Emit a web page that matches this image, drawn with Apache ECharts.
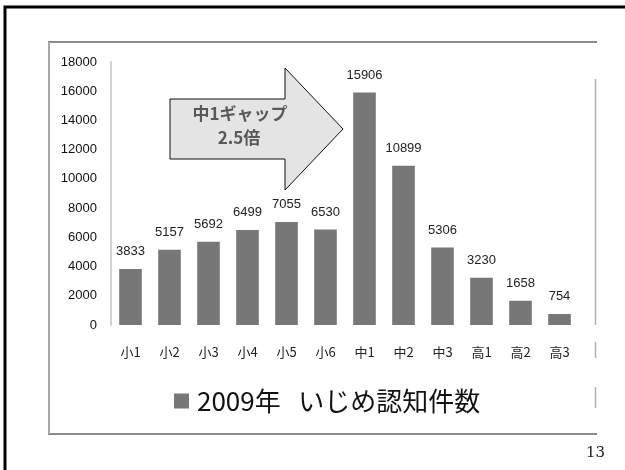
<!DOCTYPE html>
<html>
<head>
<meta charset="utf-8">
<script src="https://cdn.jsdelivr.net/npm/echarts@6/dist/echarts.min.js"></script>
<style>
  html, body { margin: 0; padding: 0; background: #fff; }
  #chart { width: 625px; height: 470px; }
</style>
</head>
<body>
<div id="chart"></div>
<script>
// School grades (elementary 1-6, junior high 1-3, senior high 1-3)
const grades = ['小1', '小2', '小3', '小4', '小5', '小6', '中1', '中2', '中3', '高1', '高2', '高3'];
// Recognised bullying cases per grade, 2009
const cases2009 = [3833, 5157, 5692, 6499, 7055, 6530, 15906, 10899, 5306, 3230, 1658, 754];
const seriesName = '2009年   いじめ認知件数';
const yTicks = { min: 0, max: 18000, step: 2000 };
const calloutLines = ['中1ギャップ', '2.5倍'];
const pageNumber = '13';

const chart = echarts.init(document.getElementById('chart'), null, { renderer: 'canvas' });

const option = {
  backgroundColor: '#ffffff',
  animation: false,
  grid: { left: 111, right: 46, top: 62, bottom: 145, containLabel: false },
  legend: {
    data: [{ name: seriesName, icon: 'rect' }],
    left: 169,
    top: 383,
    itemWidth: 15,
    itemHeight: 15,
    itemGap: 0,
    textStyle: {
      fontSize: 26,
      color: '#111',
      fontFamily: '"Noto Sans CJK JP", sans-serif',
      padding: [0, 0, 0, 3]
    }
  },
  xAxis: {
    type: 'category',
    data: grades,
    axisLine: { show: false },
    axisTick: { show: false },
    axisLabel: {
      margin: 21,
      fontSize: 13,
      color: '#222',
      fontFamily: '"Noto Sans CJK JP", sans-serif'
    }
  },
  yAxis: {
    type: 'value',
    min: yTicks.min,
    max: yTicks.max,
    interval: yTicks.step,
    splitLine: { show: false },
    axisTick: { show: false },
    axisLine: { show: true, lineStyle: { color: '#d2d2d2', width: 2 } },
    axisLabel: {
      margin: 14,
      fontSize: 13,
      color: '#111',
      fontFamily: '"Liberation Sans", "Noto Sans", sans-serif',
      formatter: (v) => String(v)
    }
  },
  series: [{
    name: seriesName,
    type: 'bar',
    data: cases2009,
    barWidth: '58%',
    itemStyle: { color: '#777777' },
    label: {
      show: true,
      position: 'top',
      distance: 11,
      fontSize: 13,
      color: '#222',
      fontFamily: '"Liberation Sans", "Noto Sans", sans-serif'
    }
  }],
  graphic: [
    // slide frame
    { type: 'rect', silent: true, shape: { x: 5, y: 7, width: 700, height: 600 },
      style: { fill: 'none', stroke: '#000', lineWidth: 3 } },
    // chart area frame
    { type: 'line', silent: true, shape: { x1: 48, y1: 42, x2: 597, y2: 42 },
      style: { stroke: '#8a8a8a', lineWidth: 2 } },
    { type: 'line', silent: true, shape: { x1: 48, y1: 434, x2: 597, y2: 434 },
      style: { stroke: '#8a8a8a', lineWidth: 2 } },
    { type: 'line', silent: true, shape: { x1: 49, y1: 42, x2: 49, y2: 434 },
      style: { stroke: '#a8a8a8', lineWidth: 2 } },
    { type: 'line', silent: true, shape: { x1: 595.5, y1: 79, x2: 595.5, y2: 325 },
      style: { stroke: '#b0b0b0', lineWidth: 1.5 } },
    { type: 'line', silent: true, shape: { x1: 595.5, y1: 342, x2: 595.5, y2: 358 },
      style: { stroke: '#b0b0b0', lineWidth: 1.5 } },
    { type: 'line', silent: true, shape: { x1: 595.5, y1: 387, x2: 595.5, y2: 408 },
      style: { stroke: '#b0b0b0', lineWidth: 1.5 } },
    // callout arrow
    { type: 'polygon', silent: true,
      shape: { points: [[170, 99], [285, 99], [285, 68], [343, 129], [285, 190], [285, 159], [170, 159]] },
      style: { fill: '#e4e4e4', stroke: '#111', lineWidth: 1 } },
    { type: 'text', silent: true, x: 240, y: 114,
      style: { text: calloutLines[0], fill: '#595959', fontSize: 17, fontWeight: 'bold',
               fontFamily: '"Noto Sans CJK JP", sans-serif', align: 'center', verticalAlign: 'middle' } },
    { type: 'text', silent: true, x: 239, y: 138,
      style: { text: calloutLines[1], fill: '#595959', fontSize: 17, fontWeight: 'bold',
               fontFamily: '"Noto Sans CJK JP", sans-serif', align: 'center', verticalAlign: 'middle' } },
    // page number
    { type: 'text', silent: true, x: 605, y: 453,
      style: { text: pageNumber, fill: '#222', fontSize: 15,
               fontFamily: '"DejaVu Serif", serif', align: 'right', verticalAlign: 'middle' } }
  ]
};

chart.setOption(option);
</script>
</body>
</html>
